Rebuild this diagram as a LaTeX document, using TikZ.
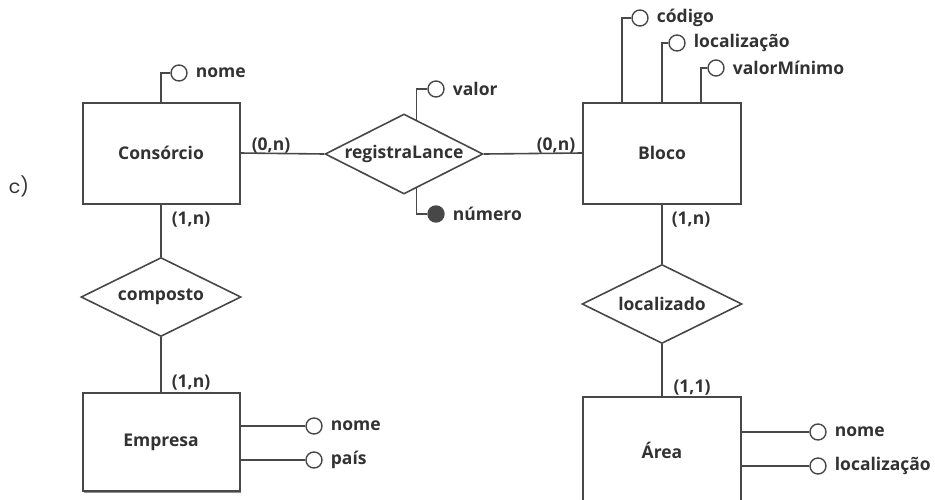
\documentclass[tikz,border=0pt]{standalone}
\usepackage{fontspec}
\setsansfont{Open Sans}
\newfontfamily\itemfont{Poppins}
\usepackage{tikz}
\usetikzlibrary{shapes.geometric,positioning,shadows}
\definecolor{ink}{RGB}{50,50,50}
\definecolor{edge}{RGB}{72,72,72}
\newcommand\erfont{\sffamily\bfseries\fontsize{17.5}{20}\selectfont}

\begin{document}
\begin{tikzpicture}[x=1pt, y=-1pt,
  entity/.style={draw=edge, fill=white, line width=2pt, minimum width=157pt, minimum height=101pt,
                 font=\erfont, text=ink,
                 drop shadow={shadow xshift=1.2pt, shadow yshift=-1.5pt, fill=black!55, opacity=.8}},
  rel/.style={diamond, draw=edge, line width=1.6pt, aspect=2, inner sep=0pt,
              minimum width=160pt, minimum height=79pt, font=\erfont, text=ink},
  attr/.style={circle, draw=edge, line width=1.4pt, minimum size=16pt, inner sep=0pt},
  keyattr/.style={attr, fill=ink!90},
  attrname/.style={font=\erfont, text=ink, inner sep=0pt},
  card/.style={font=\erfont, text=ink, inner sep=0pt},
  link/.style={draw=edge, line width=1.6pt},
]
\useasboundingbox (0,0) rectangle (935,499);

% item label
\node[font=\itemfont\fontsize{19}{22}\selectfont, text=ink] (item) at (19,186) {c)};

% entities
\node[entity] (consorcio) at (161,153) {Consórcio};
\node[entity, minimum width=158pt] (bloco) at (662,153) {Bloco};
\node[entity, minimum height=98pt] (empresa) at (161,442) {Empresa};
\node[entity, minimum width=158pt, minimum height=106pt] (area) at (662,450) {Área};

% relationships
\node[rel, minimum width=158pt, minimum height=80pt] (lance) at (404,154) {registraLance};
\node[rel] (composto) at (161,297) {composto};
\node[rel] (localizado) at (662,304) {localizado};

\draw[link] (consorcio.east) -- (lance.west);
\draw[link] (lance.east) -- (bloco.west);
\draw[link] (consorcio.south) -- (composto.north);
\draw[link] (composto.south) -- (empresa.north);
\draw[link] (bloco.south) -- (localizado.north);
\draw[link] (localizado.south) -- (area.north);

% cardinalities
\node[card] (c1) at (271,146) {(0,n)};
\node[card] (c2) at (556,146) {(0,n)};
\node[card] (c3) at (191,220) {(1,n)};
\node[card] (c4) at (191,383) {(1,n)};
\node[card] (c5) at (691,220) {(1,n)};
\node[card] (c6) at (692,388) {(1,1)};

% Consorcio attribute
\node[attr] (cnome) at (179,73) {};
\node[attrname, right=8pt of cnome] (cnome-txt) {nome};
\draw[link] (consorcio.north) |- (cnome.west);

% registraLance attributes
\node[attr] (valor) at (436,89) {};
\node[attrname, right=8pt of valor] (valor-txt) {valor};
\draw[link] (lance.70) |- (valor.west);
\node[keyattr] (numero) at (436,214) {};
\node[attrname, right=8pt of numero] (numero-txt) {número};
\draw[link] (lance.-70) |- (numero.west);

% Bloco attributes
\foreach \n/\x/\y/\dx/\txt in {cod/640/18/-40/código, locb/677/43/0/localização,
                               vmin/716/68/39/valorMínimo} {
  \node[attr] (\n) at (\x,\y) {};
  \node[attrname, right=8pt of \n] (\n-txt) {\txt};
  \draw[link] ([xshift=\dx pt]bloco.north) |- (\n.west);
}

% Empresa attributes
\foreach \n/\y/\txt in {enome/426/nome, epais/460/país} {
  \node[attr] (\n) at (314,\y) {};
  \node[attrname, right=8pt of \n] (\n-txt) {\txt};
  \draw[link] (\n.west -| empresa.east) -- (\n.west);
}

% Area attributes
\foreach \n/\y/\txt in {anome/432/nome, aloc/466/localização} {
  \node[attr] (\n) at (818,\y) {};
  \node[attrname, right=8pt of \n] (\n-txt) {\txt};
  \draw[link] (\n.west -| area.east) -- (\n.west);
}
\end{tikzpicture}
\end{document}
